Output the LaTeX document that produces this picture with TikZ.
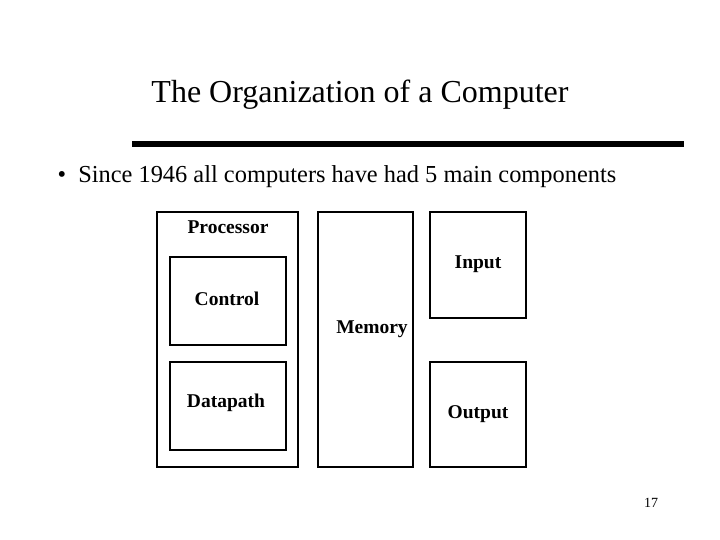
\documentclass[tikz,border=0pt]{standalone}
\usepackage{fontspec}
\setmainfont{Liberation Serif}
\usetikzlibrary{positioning}

\begin{document}
\begin{tikzpicture}[x=1pt, y=-1pt,
    unit/.style={draw, line width=2.5pt},
    lbl/.style={font=\fontsize{19.5}{22}\selectfont\bfseries}
]
\useasboundingbox (0,0) rectangle (720,540);

\node (title) at (360,95) {\fontsize{32}{36}\selectfont The Organization of a Computer};
\coordinate (ruleL) at (132,144);
\coordinate (ruleR) at (684,144);
\draw[line width=6pt] (ruleL) -- (ruleR);
\node[anchor=west] (bullet) at (54,177) {\fontsize{24.4}{28}\selectfont \textbullet\ \ Since 1946 all computers have had 5 main components};

% components
\draw[unit] (157,212) rectangle (298,467);
\draw[unit] (170,257) rectangle (286,345);
\draw[unit] (170,362) rectangle (286,450);
\draw[unit] (318,212) rectangle (413,467);
\draw[unit] (430,212) rectangle (526,318);
\draw[unit] (430,362) rectangle (526,467);

\node[lbl] (processor) at (228,227) {Processor};
\node[lbl] (control) at (227,299) {Control};
\node[lbl] (datapath) at (226,403) {Datapath};
\node[lbl] (memory) at (372,329) {Memory};
\node[lbl] (input) at (478,264) {Input};
\node[lbl] (output) at (478,414) {Output};

\node (page) at (651,503) {\fontsize{14}{16}\selectfont 17};
\end{tikzpicture}
\end{document}
